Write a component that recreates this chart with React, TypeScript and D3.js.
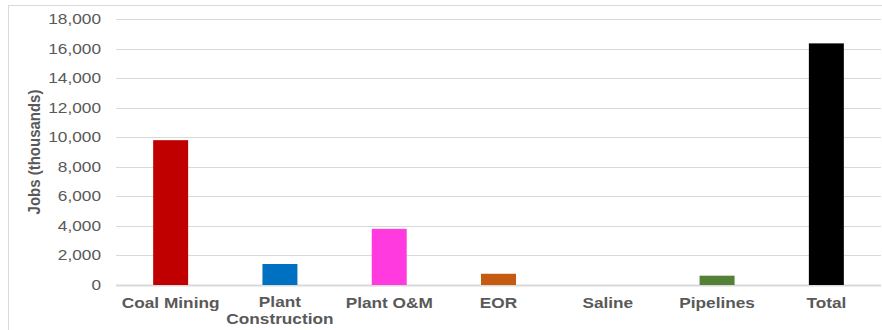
import React from "react";
import * as d3 from "d3";

const categories = ["Coal Mining", "Plant Construction", "Plant O&M", "EOR", "Saline", "Pipelines", "Total"];
const jobs = [9800, 1420, 3800, 760, 0, 630, 16350];
const barColors = ["#C00000", "#0070C0", "#FF3BE0", "#C55A11", "#A5A5A5", "#538135", "#000000"];
const yTicks = [0, 2000, 4000, 6000, 8000, 10000, 12000, 14000, 16000, 18000];
const yTitle = "Jobs (thousands)";

const W = 882;
const H = 330;
const plotLeft = 116;
const plotRight = 881;
const plotTop = 19;
const plotBottom = 285;

export default function App() {
  const x = d3.scaleBand<string>().domain(categories).range([plotLeft, plotRight]).paddingInner(0.68).paddingOuter(0.34);
  const y = d3.scaleLinear().domain([0, 18000]).range([plotBottom, plotTop]);
  const fmt = d3.format(",");
  const font = "'Liberation Sans', Arial, sans-serif";

  return (
    <svg width={W} height={H} style={{ position: "absolute", left: 0, top: 0, background: "#fff" }} fontFamily={font}>
      <rect x={0} y={0} width={W} height={H} fill="#fff" />
      {/* outer chart border */}
      <line x1={8.5} x2={8.5} y1={5} y2={H} stroke="#d9d9d9" strokeWidth={1} />
      <line x1={8} x2={W} y1={5.5} y2={5.5} stroke="#d9d9d9" strokeWidth={1} />
      {/* gridlines */}
      {yTicks.map((t) => (
        <line key={"g" + t} x1={plotLeft} x2={plotRight} y1={Math.round(y(t)) + 0.5} y2={Math.round(y(t)) + 0.5}
          stroke="#d9d9d9" strokeWidth={t === 0 ? 2 : 1} />
      ))}
      {/* tick labels */}
      {yTicks.map((t) => (
        <text key={"t" + t} transform={`translate(101,${y(t) + 5}) scale(1.15,1)`} textAnchor="end" fontSize={15} fill="#595959">
          {fmt(t)}
        </text>
      ))}
      {/* bars */}
      {categories.map((c, i) => (
        <rect key={c} x={x(c)} width={x.bandwidth()} y={y(jobs[i])} height={plotBottom - y(jobs[i])} fill={barColors[i]} />
      ))}
      {/* category labels */}
      {categories.map((c) => {
        const cx = (x(c) as number) + x.bandwidth() / 2;
        const words = c === "Plant Construction" ? ["Plant", "Construction"] : [c];
        const base = words.length > 1 ? 307 : 308;
        return words.map((w, j) => (
          <text key={c + j} transform={`translate(${cx},${base + j * 17}) scale(1.15,1)`} textAnchor="middle"
            fontSize={15} fontWeight="bold" fill="#595959">
            {w}
          </text>
        ));
      })}
      {/* y title */}
      <text transform={`translate(40,152) rotate(-90) scale(1,1.1)`} textAnchor="middle" fontSize={15} fontWeight="bold" fill="#595959">
        {yTitle}
      </text>
    </svg>
  );
}
